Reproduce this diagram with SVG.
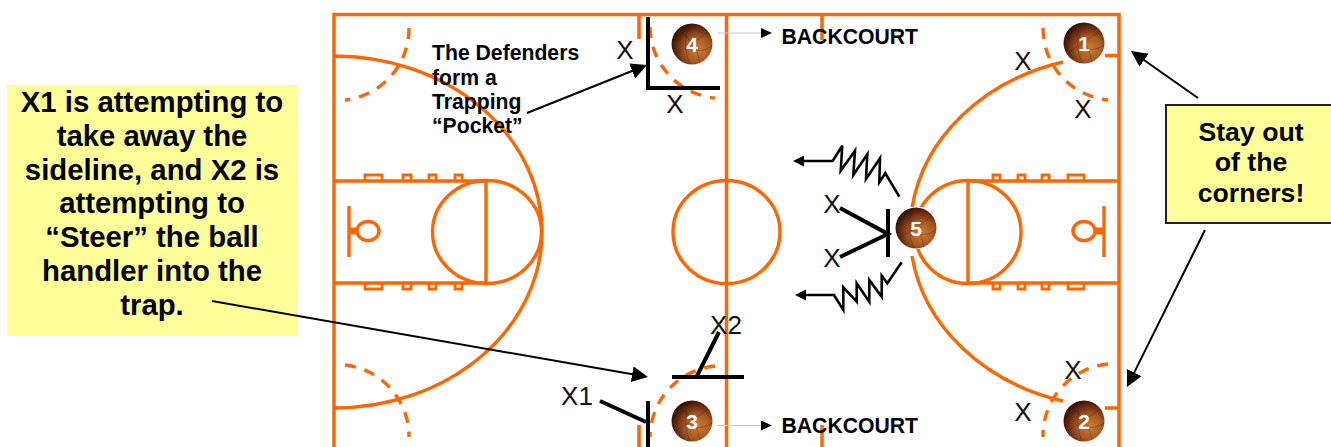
<svg xmlns="http://www.w3.org/2000/svg" xmlns:xlink="http://www.w3.org/1999/xlink" width="1331" height="447" viewBox="0 0 1331 447">
<style>
text{font-family:"Liberation Sans",Arial,sans-serif}
.court,.thin,.dash,.hash{fill:none;stroke:#ff6600}
.court{stroke-width:3.5}
.thin{stroke-width:3.4}
.hash{stroke-width:2.8}
.dash{stroke-width:3.4;stroke-dasharray:11 9}
.d{fill:none;stroke:#000;stroke-width:4}
.z{fill:none;stroke:#000;stroke-width:2.6}
.x{font-size:26px;fill:#111;text-anchor:middle}
.b{font-weight:bold;fill:#000}
.lab{font-size:21.2px}
.big{font-size:29.33px;text-anchor:middle}
.mid{font-size:26.67px;text-anchor:middle}
.n{font-size:21px;font-weight:bold;fill:#fff;text-anchor:middle}
.call{fill:none;stroke:#000;stroke-width:2;marker-end:url(#big)}
.note{fill:#ffff99}
.seam{fill:none;stroke:#3a1406;stroke-width:.6;opacity:.55}
</style>
<defs>
<marker id="big" markerUnits="userSpaceOnUse" markerWidth="18" markerHeight="18" refX="12" refY="8" orient="auto"><path d="M0,0L16,8L0,16z" fill="#000"/></marker>
<marker id="small" markerUnits="userSpaceOnUse" markerWidth="12" markerHeight="12" refX="0" refY="5" orient="auto"><path d="M0,0L11,5L0,10z" fill="#000"/></marker>
<radialGradient id="leather" cx="64%" cy="64%" r="68%">
<stop offset="0" stop-color="#d07a35"/><stop offset=".45" stop-color="#a85a24"/><stop offset=".82" stop-color="#5a220b"/><stop offset="1" stop-color="#2e0f05"/>
</radialGradient>
<g id="ball">
<rect x="-21" y="-21" width="42" height="42" fill="#fff"/>
<circle r="20.500" fill="url(#leather)"/>
<path class="seam" d="M-14,-14Q4,-4 8,19M16,-12Q0,0 -16,10M-4,-20Q-10,4 -2,20M2,6Q12,8 20,2"/>
</g>
</defs>
<g id="court">
<path class="court" d="M334,447V14.500H1119V447M726.500,14.500V447"/>
<path class="court" d="M639,14.500V39M822,14.500V40M639,425V447M822,425V447"/>
<path class="thin" d="M334,56A208,176 0 0 1 334,408"/>
<path class="thin" d="M1063,62A209,176 0 0 0 912,208M912,256A209,176 0 0 0 1063,401"/>
<path class="thin" d="M1105,55.500H1119M1105,408H1119"/>
<path class="thin" d="M334,181H486V283H334M486,181V283M1119,181H968V283H1119M968,181V283"/>
<ellipse class="thin" cx="487" cy="232" rx="54.500" ry="51.500"/>
<ellipse class="thin" cx="968" cy="232" rx="53" ry="51.500"/>
<ellipse class="thin" cx="726.500" cy="232" rx="53.500" ry="51.500"/>
<path class="hash" d="M365,181V175H382V181M403,181V175H411V181M429,181V175H436V181M455,181V175H462V181M365,283V289H382V283M403,283V289H411V283M429,283V289H436V283M455,283V289H462V283"/>
<path class="hash" d="M993,181V175H1000V181M1018,181V175H1025V181M1042,181V175H1049V181M1068,181V175H1084V181M993,283V289H1000V283M1018,283V289H1025V283M1042,283V289H1049V283M1068,283V289H1084V283"/>
<path class="thin" d="M349,206V257M1104,206V257"/>
<ellipse class="thin" cx="368" cy="231" rx="11" ry="9.500"/>
<ellipse class="thin" cx="1084" cy="231" rx="11" ry="9.500"/>
<path d="M349,231H358M1095,231H1104" fill="none" stroke="#ff6600" stroke-width="7"/>
<path class="dash" d="M409,28A72,72 0 0 1 345,100"/>
<path class="dash" d="M345,365A72,72 0 0 1 409,437"/>
<path class="dash" d="M650,27A72,72 0 0 0 715,98"/>
<path class="dash" d="M715,366A72,72 0 0 0 650,437"/>
<path class="dash" d="M1043,28A72,72 0 0 0 1108,100"/>
<path class="dash" d="M1108,364A72,72 0 0 0 1043,437"/>
</g>
<g id="note-left">
<rect class="note" x="7" y="85" width="291" height="251"/>
<text class="b big" x="152"><tspan x="152" y="112">X1 is attempting to</tspan><tspan x="152" y="146">take away the</tspan><tspan x="152" y="179.500">sideline, and X2 is</tspan><tspan x="152" y="213">attempting to</tspan><tspan x="152" y="247">“Steer” the ball</tspan><tspan x="152" y="280.500">handler into the</tspan><tspan x="152" y="315">trap.</tspan></text>
</g>
<g id="note-right">
<rect class="note" x="1166" y="105" width="170" height="118" stroke="#222" stroke-width="2"/>
<text class="b mid" x="1251"><tspan x="1251" y="141">Stay out</tspan><tspan x="1251" y="171">of the</tspan><tspan x="1251" y="202">corners!</tspan></text>
</g>
<g id="label-backcourt-top"><text class="b lab" x="781.500" y="43.500">BACKCOURT</text></g>
<g id="label-backcourt-bottom"><text class="b lab" x="781.500" y="433">BACKCOURT</text></g>
<g id="label-pocket"><text class="b lab" x="432"><tspan x="432" y="59.500">The Defenders</tspan><tspan x="432" y="84.500">form a</tspan><tspan x="432" y="109">Trapping</tspan><tspan x="432" y="133">“Pocket”</tspan></text></g>
<g id="connectors">
<path d="M718,33H761" fill="none" stroke="#c8c8c8" stroke-width="1" marker-end="url(#small)"/>
<path d="M718,425.500H761" fill="none" stroke="#c8c8c8" stroke-width="1" marker-end="url(#small)"/>
<path class="d" d="M648,17V88H720"/>
<path class="d" d="M672,377H744M697,376L719,332"/>
<path class="d" d="M600,401L646,422M648,401V447"/>
<path class="d" d="M888,209V257M840,208L888,234L840,257"/>
<path class="z" d="M899.300,196.700L885.300,173.300L879.300,182.300L880,158.300L866,179L867.300,154.300L853.300,175L855,150.700L840.700,170.700L842.300,145.700L832.700,161H804"/>
<path d="M793,161L804,155.500V166.500z" fill="#000"/>
<path class="z" d="M901.700,262.300L887.300,283.300L881.700,275.700V296.700L869.300,280V301.700L856.700,283.300V301.700L843.300,287.300V310L834,295H805"/>
<path d="M795,295L806,289.500V300.500z" fill="#000"/>
<path class="call" d="M527,113L643.300,66.500"/>
<path class="call" d="M212,301L644,376.300"/>
<path class="call" d="M1198,98L1134.300,53.300"/>
<path class="call" d="M1205,230L1128.800,383.400"/>
</g>
<g id="defenders">
<text class="x" x="625" y="59">X</text>
<text class="x" x="675" y="113">X</text>
<text class="x" x="1023" y="70">X</text>
<text class="x" x="1083" y="118">X</text>
<text class="x" x="1073" y="379">X</text>
<text class="x" x="1023" y="421">X</text>
<text class="x" x="832" y="213">X</text>
<text class="x" x="832" y="267">X</text>
<text class="x" x="577" y="405">X1</text>
<text class="x" x="726" y="334">X2</text>
</g>
<g id="player-1"><use href="#ball" xlink:href="#ball" x="1084" y="43"/><text class="n" x="1084" y="50.500">1</text></g>
<g id="player-2"><use href="#ball" xlink:href="#ball" x="1084" y="421"/><text class="n" x="1084" y="428.500">2</text></g>
<g id="player-3"><use href="#ball" xlink:href="#ball" x="692" y="421"/><text class="n" x="692" y="428.500">3</text></g>
<g id="player-4"><use href="#ball" xlink:href="#ball" x="692" y="44"/><text class="n" x="692" y="51.500">4</text></g>
<g id="player-5"><use href="#ball" xlink:href="#ball" x="916" y="228"/><text class="n" x="916" y="235.500">5</text></g>
</svg>
